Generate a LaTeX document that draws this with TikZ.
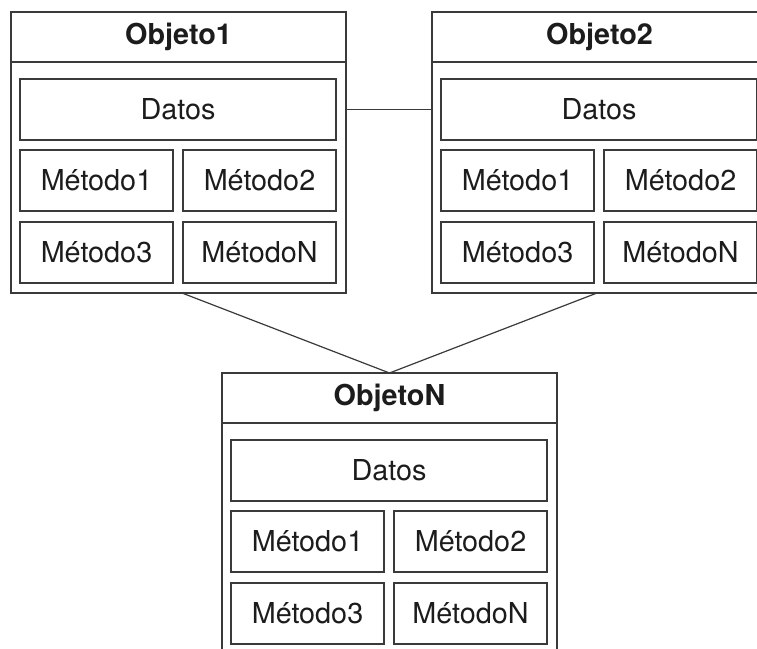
\documentclass[tikz,border=0pt]{standalone}
\usepackage{fontspec}
\setmainfont{TeX Gyre Heros}
\definecolor{linec}{HTML}{3A3A3A}
\definecolor{textc}{HTML}{1C1C1C}
\newcommand{\objeto}[4]{%
  \node[outerbox] (#1) at (178.5+#2,152.5+#3) {};
  \node[titlebox] (#1t) at (178.5+#2,37+#3) {\bfseries #4};
  \node[databox] (#1d) at (178+#2,109.5+#3) {Datos};
  \node[metbox] (#1a) at (96.5+#2,180.5+#3) {Método1};
  \node[metbox] (#1b) at (259.5+#2,180.5+#3) {Método2};
  \node[metbox] (#1c) at (96.5+#2,252.5+#3) {Método3};
  \node[metbox] (#1n) at (259.5+#2,252.5+#3) {MétodoN};
}
\begin{document}
\begin{tikzpicture}[x=0.75pt,y=-0.75pt,
  every node/.style={font=\fontsize{21.6pt}{26pt}\selectfont, text=textc, inner sep=0pt, outer sep=0pt},
  outerbox/.style={draw=linec, line width=1pt, minimum width=335*0.75pt, minimum height=281*0.75pt},
  titlebox/.style={draw=linec, line width=1pt, minimum width=335*0.75pt, minimum height=50*0.75pt},
  databox/.style={draw=linec, line width=1pt, minimum width=316*0.75pt, minimum height=61*0.75pt},
  metbox/.style={draw=linec, line width=1pt, minimum width=153*0.75pt, minimum height=61*0.75pt},
  conn/.style={draw=linec, line width=0.9pt}]
\useasboundingbox (0,0) rectangle (757,649);
\fill[white] (0,0) rectangle (757,649);
\clip (0,0) rectangle (757,649);
\objeto{o1}{0}{0}{Objeto1}
\objeto{o2}{421}{0}{Objeto2}
\objeto{oN}{211}{361}{ObjetoN}
\draw[conn] (o1.east |- o1d.east) -- (o2.west |- o1d.east);
\draw[conn] ([xshift=3.5*0.75pt]o1.south) -- (oN.north);
\draw[conn] ([xshift=-2.5*0.75pt]o2.south) -- (oN.north);
\end{tikzpicture}
\end{document}
